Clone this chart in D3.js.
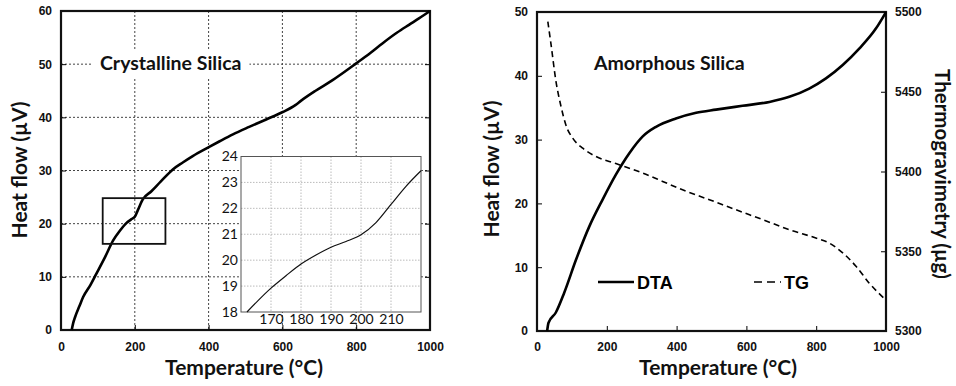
<!DOCTYPE html>
<html>
<head>
<meta charset="utf-8">
<script src="https://cdn.jsdelivr.net/npm/d3@7"></script>
<style>
  body { margin: 0; background: #fff; }
  svg { display: block; }
  .tick text { font-family: "Liberation Sans", Arial, sans-serif; font-weight: bold; font-size: 12px; fill: #111; }
  .title { font-family: Lato, "Open Sans", sans-serif; font-weight: bold; fill: #111; }
  .inset .tick text { font-family: Lato, sans-serif; font-weight: normal; font-size: 14px; }
</style>
</head>
<body>
<div id="chart"></div>
<script>
// Crystalline silica DTA curve (temperature °C, heat flow µV)
const crystT  = [29, 33, 38, 50, 60, 80, 96, 120, 141, 160, 177, 190, 200, 208, 222, 245, 270, 303, 330, 357, 398, 430, 466, 510, 556, 601, 635, 650, 690, 736, 799, 840, 871, 910, 943, 970, 1000];
const crystHF = [0, 1.3, 2.4, 4.5, 6.2, 8.5, 10.6, 13.8, 16.8, 18.7, 20.1, 20.8, 21.3, 22.5, 24.6, 26.1, 27.9, 30.2, 31.5, 32.7, 34.3, 35.5, 36.8, 38.2, 39.6, 41.0, 42.3, 43.1, 45.0, 47.0, 50.1, 52.2, 53.9, 55.9, 57.4, 58.6, 60];

// Inset: zoom on 160–220 °C
const insetT  = [162, 170, 175, 180, 185, 190, 195, 200, 205, 210, 215, 220];
const insetHF = [18.0, 18.92, 19.4, 19.85, 20.2, 20.5, 20.72, 20.98, 21.45, 22.15, 22.85, 23.45];

// Amorphous silica DTA (left axis) and TG (right axis)
const amorT   = [29, 33, 54, 78, 112, 150, 188, 226, 265, 303, 341, 398, 456, 513, 589, 666, 723, 780, 828, 876, 924, 971, 1000];
const amorHF  = [0, 1.3, 2.9, 6.0, 11.2, 16.4, 20.6, 24.5, 27.9, 30.5, 32.0, 33.3, 34.2, 34.7, 35.3, 35.9, 36.7, 38.0, 39.6, 41.7, 44.3, 47.4, 50];
const tgT     = [31, 40, 54, 69, 83, 102, 131, 169, 226, 303, 360, 417, 494, 570, 647, 723, 799, 837, 876, 914, 952, 998];
const tgMass  = [5494, 5480, 5457, 5440.6, 5429, 5421, 5414.6, 5409.4, 5405, 5399, 5393.8, 5388.5, 5382.3, 5376, 5369.8, 5363.5, 5358.3, 5355.2, 5349, 5340.6, 5330, 5319.8];

const tempTicks = [0, 200, 400, 600, 800, 1000];
const crystTicks = [0, 10, 20, 30, 40, 50, 60];
const amorTicks = [0, 10, 20, 30, 40, 50];
const tgTicks = [5300, 5350, 5400, 5450, 5500];
const insetXTicks = [170, 180, 190, 200, 210];
const insetYTicks = [18, 19, 20, 21, 22, 23, 24];

const width = 956, height = 386;
const fmt = d3.format("d");

const svg = d3.select("#chart")
  .append("svg")
  .attr("width", width)
  .attr("height", height);

// ---------- Left panel: crystalline silica ----------
const xL = d3.scaleLinear().domain([0, 1000]).range([61, 430]);
const yL = d3.scaleLinear().domain([0, 60]).range([330, 11]);

const left = svg.append("g");

// dotted grid
left.append("g")
  .selectAll("line")
  .data(tempTicks.slice(1, -1))
  .join("line")
  .attr("x1", d => xL(d)).attr("x2", d => xL(d))
  .attr("y1", yL(60)).attr("y2", yL(0))
  .attr("stroke", "#444").attr("stroke-width", 1).attr("stroke-dasharray", "2,2");
left.append("g")
  .selectAll("line")
  .data(crystTicks.slice(1, -1))
  .join("line")
  .attr("x1", xL(0)).attr("x2", xL(1000))
  .attr("y1", d => yL(d)).attr("y2", d => yL(d))
  .attr("stroke", "#444").attr("stroke-width", 1).attr("stroke-dasharray", "2,2");

// axes with inward ticks
left.append("g")
  .attr("transform", `translate(0,${yL(0)})`)
  .call(d3.axisBottom(xL).tickValues(tempTicks).tickFormat(fmt).tickSize(-5).tickPadding(12).tickSizeOuter(0));
left.append("g")
  .attr("transform", `translate(${xL(0)},0)`)
  .call(d3.axisLeft(yL).tickValues(crystTicks).tickFormat(fmt).tickSize(-5).tickPadding(9).tickSizeOuter(0));
left.append("g")
  .attr("transform", `translate(${xL(1000)},0)`)
  .call(d3.axisRight(yL).tickValues(crystTicks).tickSize(-5).tickFormat("").tickSizeOuter(0));
left.selectAll(".domain").remove();

left.append("rect")
  .attr("x", xL(0)).attr("y", yL(60))
  .attr("width", xL(1000) - xL(0)).attr("height", yL(0) - yL(60))
  .attr("fill", "none").attr("stroke", "#111").attr("stroke-width", 2.2);

// label with white background
const crystLabel = left.append("text")
  .attr("class", "title")
  .attr("x", 100).attr("y", 70)
  .attr("font-size", 19.5)
  .text("Crystalline Silica");
const bb = crystLabel.node().getBBox();
left.insert("rect", "text.title")
  .attr("x", bb.x - 9).attr("y", 50)
  .attr("width", bb.width + 17).attr("height", 28)
  .attr("fill", "#fff");

const lineL = d3.line()
  .x((d, i) => xL(crystT[i]))
  .y(d => yL(d))
  .curve(d3.curveMonotoneX);

left.append("path")
  .datum(crystHF)
  .attr("d", lineL)
  .attr("fill", "none")
  .attr("stroke", "#000")
  .attr("stroke-width", 2.6);

// zoom box
left.append("rect")
  .attr("x", xL(113)).attr("y", yL(24.8))
  .attr("width", xL(283) - xL(113)).attr("height", yL(16.2) - yL(24.8))
  .attr("fill", "none").attr("stroke", "#111").attr("stroke-width", 1.8);

// ---------- Inset ----------
const xI = d3.scaleLinear().domain([160, 220]).range([241, 421]);
const yI = d3.scaleLinear().domain([18, 24]).range([312, 156.5]);

const inset = svg.append("g").attr("class", "inset");

inset.append("rect")
  .attr("x", xI(160)).attr("y", yI(24))
  .attr("width", xI(220) - xI(160)).attr("height", yI(18) - yI(24))
  .attr("fill", "#fff");

inset.append("g")
  .selectAll("line")
  .data(insetXTicks)
  .join("line")
  .attr("x1", d => xI(d)).attr("x2", d => xI(d))
  .attr("y1", yI(24)).attr("y2", yI(18))
  .attr("stroke", "#aaa").attr("stroke-width", 0.8).attr("stroke-dasharray", "1.5,1.5");
inset.append("g")
  .selectAll("line")
  .data(insetYTicks.slice(1, -1))
  .join("line")
  .attr("x1", xI(160)).attr("x2", xI(220))
  .attr("y1", d => yI(d)).attr("y2", d => yI(d))
  .attr("stroke", "#aaa").attr("stroke-width", 0.8).attr("stroke-dasharray", "1.5,1.5");

inset.append("g")
  .attr("transform", `translate(0,${yI(18)})`)
  .call(d3.axisBottom(xI).tickValues(insetXTicks).tickFormat(fmt).tickSize(0).tickPadding(2));
inset.append("g")
  .attr("transform", `translate(${xI(160)},0)`)
  .call(d3.axisLeft(yI).tickValues(insetYTicks).tickFormat(fmt).tickSize(0).tickPadding(3));
inset.selectAll(".domain").remove();

inset.append("rect")
  .attr("x", xI(160)).attr("y", yI(24))
  .attr("width", xI(220) - xI(160)).attr("height", yI(18) - yI(24))
  .attr("fill", "none").attr("stroke", "#555").attr("stroke-width", 1);

const lineI = d3.line()
  .x((d, i) => xI(insetT[i]))
  .y(d => yI(d))
  .curve(d3.curveMonotoneX);

inset.append("path")
  .datum(insetHF)
  .attr("d", lineI)
  .attr("fill", "none")
  .attr("stroke", "#111")
  .attr("stroke-width", 1.2);

// axis titles (left)
svg.append("text")
  .attr("class", "title")
  .attr("x", 244).attr("y", 375)
  .attr("text-anchor", "middle")
  .attr("font-size", 21)
  .text("Temperature (°C)");
svg.append("text")
  .attr("class", "title")
  .attr("transform", "translate(27,170) rotate(-90)")
  .attr("text-anchor", "middle")
  .attr("font-size", 21)
  .text("Heat flow (µV)");

// ---------- Right panel: amorphous silica ----------
const xR = d3.scaleLinear().domain([0, 1000]).range([537, 886]);
const yR = d3.scaleLinear().domain([0, 50]).range([331, 12]);
const yTG = d3.scaleLinear().domain([5300, 5500]).range([331, 12]);

const right = svg.append("g");

right.append("g")
  .attr("transform", `translate(0,${yR(0)})`)
  .call(d3.axisBottom(xR).tickValues(tempTicks).tickFormat(fmt).tickSize(-5).tickPadding(11).tickSizeOuter(0));
right.append("g")
  .attr("transform", `translate(${xR(0)},0)`)
  .call(d3.axisLeft(yR).tickValues(amorTicks).tickFormat(fmt).tickSize(-5).tickPadding(9).tickSizeOuter(0));
right.append("g")
  .attr("transform", `translate(${xR(1000)},0)`)
  .call(d3.axisRight(yTG).tickValues(tgTicks).tickFormat(fmt).tickSize(-5).tickPadding(9).tickSizeOuter(0));
right.selectAll(".domain").remove();

right.append("rect")
  .attr("x", xR(0)).attr("y", yR(50))
  .attr("width", xR(1000) - xR(0)).attr("height", yR(0) - yR(50))
  .attr("fill", "none").attr("stroke", "#111").attr("stroke-width", 2.2);

right.append("text")
  .attr("class", "title")
  .attr("x", 594).attr("y", 70)
  .attr("font-size", 19.5)
  .text("Amorphous Silica");

const lineR = d3.line()
  .x((d, i) => xR(amorT[i]))
  .y(d => yR(d))
  .curve(d3.curveMonotoneX);
const lineTG = d3.line()
  .x((d, i) => xR(tgT[i]))
  .y(d => yTG(d))
  .curve(d3.curveMonotoneX);

right.append("path")
  .datum(tgMass)
  .attr("d", lineTG)
  .attr("fill", "none")
  .attr("stroke", "#000")
  .attr("stroke-width", 1.6)
  .attr("stroke-dasharray", "6,4");

right.append("path")
  .datum(amorHF)
  .attr("d", lineR)
  .attr("fill", "none")
  .attr("stroke", "#000")
  .attr("stroke-width", 2.6);

// legend
const legend = right.append("g")
  .attr("font-family", "'Liberation Sans', Arial, sans-serif")
  .attr("font-weight", "bold")
  .attr("font-size", 18);
legend.append("line")
  .attr("x1", 598).attr("x2", 634).attr("y1", 282).attr("y2", 282)
  .attr("stroke", "#000").attr("stroke-width", 2.6);
legend.append("text").attr("x", 637).attr("y", 288.5).text("DTA");
legend.append("line")
  .attr("x1", 754).attr("x2", 781).attr("y1", 282).attr("y2", 282)
  .attr("stroke", "#000").attr("stroke-width", 1.6).attr("stroke-dasharray", "8,5");
legend.append("text").attr("x", 784).attr("y", 288.5).text("TG");

// axis titles (right)
svg.append("text")
  .attr("class", "title")
  .attr("x", 718).attr("y", 375)
  .attr("text-anchor", "middle")
  .attr("font-size", 21)
  .text("Temperature (°C)");
svg.append("text")
  .attr("class", "title")
  .attr("transform", "translate(499,169) rotate(-90)")
  .attr("text-anchor", "middle")
  .attr("font-size", 21)
  .text("Heat flow (µV)");
svg.append("text")
  .attr("class", "title")
  .attr("transform", "translate(935,174) rotate(90)")
  .attr("text-anchor", "middle")
  .attr("font-size", 20.5)
  .text("Thermogravimetry (µg)");
</script>
</body>
</html>
